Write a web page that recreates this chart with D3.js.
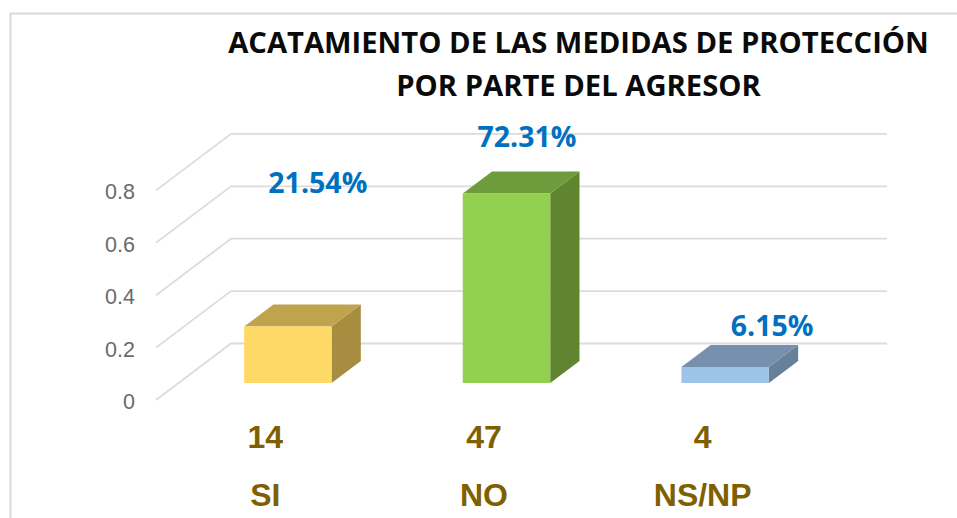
<!DOCTYPE html>
<html><head><meta charset="utf-8">
<script src="https://cdnjs.cloudflare.com/ajax/libs/d3/7.8.5/d3.min.js"></script>
<style>html,body{margin:0;padding:0;background:#fff;overflow:hidden}svg{display:block}</style>
</head><body><svg id="c" width="957" height="518"></svg>
<script>
const categories = ["SI", "NO", "NS/NP"];
const counts = [14, 47, 4];
const shares = [0.2154, 0.7231, 0.0615];
const shareLabels = ["21.54%", "72.31%", "6.15%"];
const yTicks = [0, 0.2, 0.4, 0.6, 0.8];
const titleLines = ["ACATAMIENTO DE LAS MEDIDAS DE PROTECCIÓN", "POR PARTE DEL AGRESOR"];
const frontColors = ["#FFD966", "#92D050", "#9DC3E6"];
const topColors = ["#BFA34D", "#6E9C3C", "#7690AD"];
const sideColors = ["#A68D40", "#5F8531", "#66809A"];

const svg = d3.select("#c");
const x = d3.scaleBand().domain(categories).range([156, 812]).paddingInner(0.6).paddingOuter(0.3);
const y = d3.scaleLinear().domain([0, 0.8]).range([400, 190.4]);
// oblique projection for depth: 0 = front of floor, 1 = back wall
const depthX = d => d * 75, depthY = d => -d * 56.5;
const barFront = 0.3, barBack = 0.69;
const P = (px, v, d) => [px + depthX(d), y(v) + depthY(d)];
const poly = pts => pts.map(p => p.join(",")).join(" ");

// chart frame
svg.append("path").attr("d", "M10.5,518V13.5H957").attr("fill", "none").attr("stroke", "#d9d9d9").attr("stroke-width", 2);

// gridlines (side wall + back wall)
svg.append("g").selectAll("polyline").data(yTicks).join("polyline")
  .attr("points", t => poly([P(156, t, 0), P(156, t, 1), P(812, t, 1)]))
  .attr("fill", "none").attr("stroke", "#dcdcdc").attr("stroke-width", 1.8);

// y tick labels
svg.append("g").selectAll("text").data(yTicks).join("text")
  .attr("x", 135).attr("y", t => y(t) + 9).attr("text-anchor", "end")
  .attr("font-family", "Liberation Sans").attr("font-size", 21.5).attr("fill", "#6a6a6a")
  .text(d3.format(".1~f"));

// 3D bars
const bars = svg.append("g").selectAll("g").data(categories).join("g");
bars.append("polygon").attr("fill", (c, i) => sideColors[i])
  .attr("points", (c, i) => { const r = x(c) + x.bandwidth();
    return poly([P(r, 0, barFront), P(r, 0, barBack), P(r, shares[i], barBack), P(r, shares[i], barFront)]); });
bars.append("polygon").attr("fill", (c, i) => topColors[i])
  .attr("points", (c, i) => { const l = x(c), r = l + x.bandwidth();
    return poly([P(l, shares[i], barFront), P(r, shares[i], barFront), P(r, shares[i], barBack), P(l, shares[i], barBack)]); });
bars.append("polygon").attr("fill", (c, i) => frontColors[i])
  .attr("points", (c, i) => { const l = x(c), r = l + x.bandwidth();
    return poly([P(l, 0, barFront), P(r, 0, barFront), P(r, shares[i], barFront), P(l, shares[i], barFront)]); });

// percentage labels (manually placed in the source chart)
const labelDx = [30, 20.5, 47], labelDy = [-133.5, -47, -30.5];
svg.append("g").selectAll("text").data(categories).join("text")
  .attr("x", (c, i) => P(x(c) + x.bandwidth() / 2, shares[i], barFront)[0] + labelDx[i])
  .attr("y", (c, i) => P(x(c), shares[i], barFront)[1] + labelDy[i])
  .attr("text-anchor", "middle").attr("font-family", "Open Sans").attr("font-weight", 700)
  .attr("font-size", 28.5).attr("fill", "#0070C0")
  .text((c, i) => shareLabels[i]);

// count and category rows
const rows = svg.append("g").attr("font-family", "Liberation Sans").attr("font-weight", 700)
  .attr("font-size", 32).attr("fill", "#7F6000").attr("text-anchor", "middle");
rows.selectAll(".n").data(categories).join("text").attr("class", "n")
  .attr("x", c => x(c) + x.bandwidth() / 2).attr("y", 448).text((c, i) => counts[i]);
rows.selectAll(".k").data(categories).join("text").attr("class", "k")
  .attr("x", c => x(c) + x.bandwidth() / 2).attr("y", 506).text(c => c);

// title
svg.append("g").selectAll("text").data(titleLines).join("text")
  .attr("x", 578.5).attr("y", (d, i) => 53 + i * 43).attr("text-anchor", "middle")
  .attr("font-family", "Open Sans").attr("font-weight", 700).attr("font-size", 29.2).attr("fill", "#0a0a0a")
  .text(d => d);
</script></body></html>
